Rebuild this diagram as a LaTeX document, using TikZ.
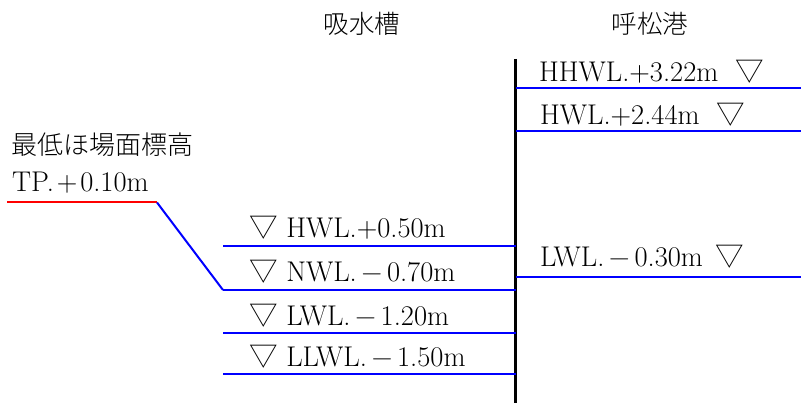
\documentclass[tikz,border=0pt]{standalone}
\usepackage{fontspec}
\newfontfamily\cjk{Noto Sans CJK JP Light}
\usetikzlibrary{positioning}
\newcommand{\fwminus}{\hspace{.17em}−\hspace{.17em}}
\newcommand{\fwplus}{\hspace{.1em}+\hspace{.1em}}

\begin{document}
\begin{tikzpicture}[x=1pt,y=-1pt,
      wlabel/.style={anchor=base west,inner sep=0pt,font=\fontsize{28.5}{32}\selectfont},
      jlabel/.style={anchor=base west,inner sep=0pt,font=\fontsize{26}{30}\selectfont\cjk},
      head/.style={anchor=base,inner sep=0pt,font=\fontsize{25.5}{30}\selectfont\cjk},
      level/.style={blue,line width=2pt},
    ]
    \useasboundingbox (0,0) rectangle (801,403);
    % headings
    \node[head] (tank) at (362,34) {吸水槽};
    \node[head] (port) at (650,34) {呼松港};
    % wall
    \coordinate (wtop) at (515.5,59);
    \coordinate (wbot) at (515.5,403);
    \draw[line width=2.4pt] (wtop) -- (wbot);
    % field level
    \node[jlabel] (fname) at (11,155) {最低ほ場面標高};
    \node[wlabel] (tp) at (12,192) {TP.\fwplus0.10m};
    \coordinate (f0) at (7,202.5);
    \coordinate (f1) at (157,202.5);
    \coordinate (f2) at (223,290);
    \draw[red,line width=2pt] (f0) -- (f1);
    \draw[level] (f1) -- (f2);
    % tank levels
    \node[wlabel] (thwl) at (249,238) {{\cjk ▽} HWL.+0.50m};
    \node[wlabel] (tnwl) at (249,282) {{\cjk ▽} NWL.\fwminus0.70m};
    \node[wlabel] (tlwl) at (249,326) {{\cjk ▽} LWL.\fwminus1.20m};
    \node[wlabel] (tllwl) at (249,367) {{\cjk ▽} LLWL.\fwminus1.50m};
    \coordinate (a0) at (223,246.5);  \coordinate (a1) at (515.5,246.5);
    \coordinate (b1) at (515.5,290);
    \coordinate (c0) at (223,333);    \coordinate (c1) at (515.5,333);
    \coordinate (d0) at (223,374);    \coordinate (d1) at (515.5,374);
    \draw[level] (a0) -- (a1);
    \draw[level] (f2) -- (b1);
    \draw[level] (c0) -- (c1);
    \draw[level] (d0) -- (d1);
    % port levels
    \node[wlabel] (phhwl) at (539,82) {HHWL.+3.22m\hspace{.6em}{\cjk ▽}};
    \node[wlabel] (phwl) at (540,125) {HWL.+2.44m\hspace{.6em}{\cjk ▽}};
    \node[wlabel] (plwl) at (540,267) {LWL.\fwminus0.30m\hspace{.45em}{\cjk ▽}};
    \coordinate (p0) at (515.5,88.5);  \coordinate (p1) at (801,88.5);
    \coordinate (q0) at (515.5,131);   \coordinate (q1) at (801,131);
    \coordinate (r0) at (515.5,277);   \coordinate (r1) at (801,277);
    \draw[level] (p0) -- (p1);
    \draw[level] (q0) -- (q1);
    \draw[level] (r0) -- (r1);
\end{tikzpicture}
\end{document}
